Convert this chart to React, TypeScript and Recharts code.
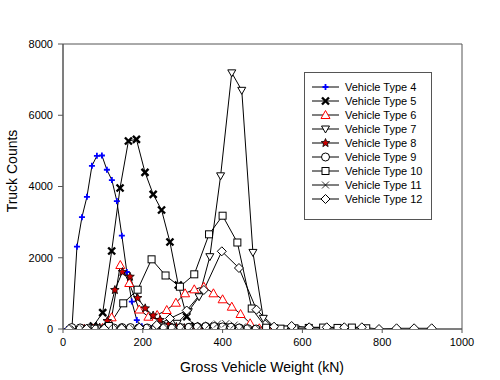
import { LineChart, Line, XAxis, YAxis, Legend, Label, ReferenceArea } from "recharts";

// [kN, count]
const type4 = [[10, 0], [22.5, 30], [35, 2310], [47.5, 3140], [60, 3710], [72.5, 4580], [85, 4860], [97.5, 4870], [110, 4470], [122.5, 4180], [135, 3590], [147.5, 2620], [160, 1600], [172.5, 770], [185, 250], [197.5, 80], [210, 40], [222.5, 20], [235, 10], [247.5, 5], [260, 0]];
const type5 = [[34, 0], [55, 10], [76, 84], [99.5, 458], [122, 2190], [143, 3958], [164, 5277], [184, 5325], [205.5, 4399], [226, 3781], [247, 3340], [268, 2442], [289, 1235], [310, 345], [331, 80], [352, 20], [373, 5], [394, 0]];
const type6 = [[53, 0], [76, 5], [99, 30], [122, 328], [143.6, 1796], [166, 1291], [191, 547], [214, 345], [236, 393], [260, 533], [283, 738], [306, 1002], [329, 1114], [353, 1187], [377, 1002], [400, 834], [423, 626], [445, 421], [469, 160], [492, 20], [515, 0]];
const type7 = [[232, 5], [259, 40], [286, 160], [314, 486], [341, 906], [368, 2030], [395, 4300], [423, 7190], [448, 6700], [476, 2150], [502, 300], [529, 30], [556, 0], [583, 0]];
const type8 = [[54, 0], [73, 5], [92, 40], [111, 225], [130, 1095], [149, 1600], [168, 1468], [187, 870], [206, 581], [226, 379], [243, 253], [264, 120], [284, 60], [304, 30], [324, 10], [344, 0]];
const type9 = [[22, 40], [43, 30], [64, 20], [85, 20], [106, 30], [127, 30], [148, 40], [169, 40], [190, 30], [211, 30], [232, 40], [253, 40], [274, 30], [295, 40], [316, 50], [337, 60], [358, 70], [379, 70], [400, 60], [421, 50], [442, 30], [463, 10], [484, 0]];
const type10 = [[79, 10], [115, 84], [151, 721], [187, 1103], [222, 1956], [257, 1502], [293, 1187], [329, 1535], [366, 2658], [400, 3180], [437, 2428], [473, 575], [509, 36], [545, 10], [580, 20], [616, 30], [652, 40], [688, 30], [724, 40], [760, 20]];
const type11 = [[30, 0], [51, 10], [72, 20], [93, 10], [114, 20], [135, 30], [156, 30], [177, 20], [198, 30], [219, 40], [240, 30], [261, 40], [282, 50], [303, 60], [324, 70], [345, 90], [366, 110], [387, 140], [408, 150], [429, 110], [450, 60], [471, 20], [492, 0]];
const type12 = [[15, 0], [59, 5], [103, 10], [147, 20], [191, 40], [235, 112], [268, 295], [310, 519], [353, 1095], [398, 2181], [441, 1712], [485, 542], [529, 65], [573, 84], [617, 48], [661, 48], [705, 48], [749, 48], [792, 0], [836, 20], [880, 20], [924, 20]];

const xTicks = [0, 200, 400, 600, 800, 1000];
const yTicks = [0, 2000, 4000, 6000, 8000];

const series = [
  { name: "Vehicle Type 4", pts: type4, shape: "plus" },
  { name: "Vehicle Type 5", pts: type5, shape: "xbold" },
  { name: "Vehicle Type 6", pts: type6, shape: "tri" },
  { name: "Vehicle Type 7", pts: type7, shape: "tridown" },
  { name: "Vehicle Type 8", pts: type8, shape: "star" },
  { name: "Vehicle Type 9", pts: type9, shape: "circle" },
  { name: "Vehicle Type 10", pts: type10, shape: "square" },
  { name: "Vehicle Type 11", pts: type11, shape: "xthin" },
  { name: "Vehicle Type 12", pts: type12, shape: "diamond" },
];

const FONT = "'Liberation Sans', Arial, sans-serif";
const AXIS = "#555";

function Marker({ shape, cx, cy }: { shape: string; cx: number; cy: number }) {
  if (cx == null || cy == null) return null;
  switch (shape) {
    case "plus":
      return <path d={`M${cx - 3},${cy}h6M${cx},${cy - 3}v6`} stroke="#0000ff" strokeWidth={1.8} />;
    case "xbold":
      return (
        <path
          d={`M${cx - 3.5},${cy - 3.5}l7,7M${cx - 3.5},${cy + 3.5}l7,-7`}
          stroke="#000"
          strokeWidth={2.4}
        />
      );
    case "tri":
      return (
        <polygon
          points={`${cx},${cy - 4.5} ${cx + 4.5},${cy + 3.5} ${cx - 4.5},${cy + 3.5}`}
          fill="#fff"
          stroke="#ff0000"
          strokeWidth={1}
        />
      );
    case "tridown":
      return (
        <polygon
          points={`${cx - 4},${cy - 3} ${cx + 4},${cy - 3} ${cx},${cy + 4}`}
          fill="#fff"
          stroke="#000"
          strokeWidth={1}
        />
      );
    case "star": {
      const p: string[] = [];
      for (let i = 0; i < 10; i++) {
        const r = i % 2 === 0 ? 4.5 : 2;
        const a = -Math.PI / 2 + (i * Math.PI) / 5;
        p.push(`${cx + r * Math.cos(a)},${cy + r * Math.sin(a)}`);
      }
      return <polygon points={p.join(" ")} fill="#cc0000" stroke="#000" strokeWidth={0.8} />;
    }
    case "circle":
      return <circle cx={cx} cy={cy} r={4} fill="#fff" stroke="#000" strokeWidth={1} />;
    case "square":
      return <rect x={cx - 3.5} y={cy - 3.5} width={7} height={7} fill="#fff" stroke="#000" strokeWidth={1} />;
    case "xthin":
      return (
        <path d={`M${cx - 3.5},${cy - 3.5}l7,7M${cx - 3.5},${cy + 3.5}l7,-7`} stroke="#000" strokeWidth={0.8} />
      );
    case "diamond":
      return (
        <polygon
          points={`${cx},${cy - 4.5} ${cx + 4.5},${cy} ${cx},${cy + 4.5} ${cx - 4.5},${cy}`}
          fill="#fff"
          stroke="#000"
          strokeWidth={1}
        />
      );
  }
  return null;
}

function LegendBox() {
  return (
    <div
      style={{
        width: 126,
        height: 139,
        border: `1px solid ${AXIS}`,
        background: "#fff",
        boxSizing: "content-box",
        paddingTop: 7,
        fontFamily: FONT,
        fontSize: 11,
        color: "#000",
      }}
    >
      {series.map((s) => (
        <div key={s.name} style={{ display: "flex", alignItems: "center", height: 14 }}>
          <svg width={40} height={14} style={{ flex: "none" }}>
            <line x1={7} x2={34} y1={7} y2={7} stroke="#000" strokeWidth={1} />
            <Marker shape={s.shape} cx={20.5} cy={7} />
          </svg>
          <span style={{ whiteSpace: "nowrap" }}>{s.name}</span>
        </div>
      ))}
    </div>
  );
}

export default function App() {
  return (
    <div style={{ position: "absolute", left: 0, top: 0, width: 500, height: 380, background: "#fff" }}>
      <LineChart width={500} height={380} margin={{ top: 44, right: 38, bottom: 0, left: 0 }}>
        <ReferenceArea x1={0} x2={1000} y1={0} y2={8000} fill="none" stroke={AXIS} strokeWidth={1} />
        <XAxis
          type="number"
          dataKey="x"
          domain={[0, 1000]}
          ticks={xTicks}
          height={51}
          allowDataOverflow
          stroke={AXIS}
          tickSize={4}
          tickMargin={5}
          tick={{ fill: "#000", fontSize: 11, fontFamily: FONT }}
        >
          <Label
            content={() => (
              <text x={262} y={372} textAnchor="middle" fontSize={14} fontFamily={FONT} fill="#000">
                Gross Vehicle Weight (kN)
              </text>
            )}
          />
        </XAxis>
        <YAxis
          type="number"
          domain={[0, 8000]}
          ticks={yTicks}
          width={63}
          allowDataOverflow
          stroke={AXIS}
          tickSize={5}
          tickMargin={5}
          tick={{ fill: "#000", fontSize: 11, fontFamily: FONT }}
        >
          <Label
            content={() => (
              <text
                x={17}
                y={171}
                transform="rotate(-90 17 171)"
                textAnchor="middle"
                fontSize={14}
                fontFamily={FONT}
                fill="#000"
              >
                Truck Counts
              </text>
            )}
          />
        </YAxis>
        <Legend
          layout="vertical"
          align="center"
          verticalAlign="middle"
          content={() => <LegendBox />}
          wrapperStyle={{ left: 304, top: 72, width: 128, height: 148 }}
        />
        {series.map((s) => (
          <Line
            key={s.name}
            name={s.name}
            data={s.pts.map(([x, y]) => ({ x, y }))}
            dataKey="y"
            stroke="#000"
            strokeWidth={1}
            isAnimationActive={false}
            dot={(p: any) => <Marker key={`${s.name}-${p.index}`} shape={s.shape} cx={p.cx} cy={p.cy} />}
            activeDot={false}
          />
        ))}
      </LineChart>
    </div>
  );
}
